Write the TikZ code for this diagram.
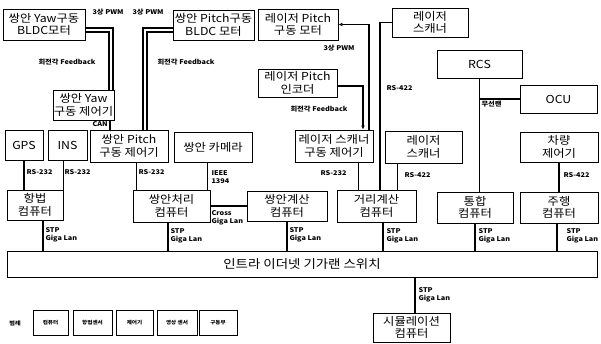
\documentclass[tikz,border=0pt]{standalone}
\usepackage{fontspec}
\setmainfont[FakeStretch=1.12]{Noto Sans CJK KR}
\usetikzlibrary{arrows.meta}
\begin{document}
\begin{tikzpicture}[x=1pt,y=-1pt,
  box/.style={draw, line width=0.9pt, inner sep=0pt, align=center, font=\fontsize{11}{12.5}\selectfont},
  lnk/.style={line width=1.5pt},
  lbl/.style={font=\fontsize{6.5}{8}\selectfont\bfseries, inner sep=0.3pt, anchor=west, align=left},
  leg/.style={draw, line width=0.9pt, inner sep=0pt, minimum height=25pt, font=\fontsize{5}{6}\selectfont\bfseries},
  tip/.style={-{Latex[open,length=4pt,width=4pt]}}
]
\useasboundingbox (0,0) rectangle (601,343);
% boxes
\node[box, minimum width=82pt, minimum height=31pt] (ymotor) at (44,24.5) {쌍안 Yaw구동\\BLDC모터};
\node[box, minimum width=81pt, minimum height=30pt] (pmotor) at (213.5,25) {쌍안 Pitch구동\\BLDC 모터};
\node[box, minimum width=80pt, minimum height=31pt] (lmotor) at (298,24.5) {레이저 Pitch\\구동 모터};
\node[box, minimum width=76pt, minimum height=29pt] (lscan1) at (430,22.5) {레이저\\스캐너};
\node[box, minimum width=79pt, minimum height=28pt] (lenc) at (297.5,83) {레이저 Pitch\\인코더};
\node[box, minimum width=61pt, minimum height=30pt] (yctrl) at (83.5,105) {쌍안 Yaw\\구동 제어기};
\node[box, minimum width=85pt, minimum height=28pt] (rcs) at (479.5,64) {RCS};
\node[box, minimum width=77pt, minimum height=28pt] (ocu) at (558.5,99) {OCU};
\node[box, minimum width=38pt, minimum height=30pt] (gps) at (24,145) {GPS};
\node[box, minimum width=39pt, minimum height=30pt] (ins) at (67.5,145) {INS};
\node[box, minimum width=78pt, minimum height=32pt] (pctrl) at (129,146) {쌍안 Pitch\\구동 제어기};
\node[box, minimum width=78pt, minimum height=30pt] (cam) at (213,147) {쌍안 카메라};
\node[box, minimum width=78pt, minimum height=32pt] (lsctrl) at (334,146) {레이저 스캐너\\구동 제어기};
\node[box, minimum width=77pt, minimum height=32pt] (lscan2) at (423.5,147) {레이저\\스캐너};
\node[box, minimum width=78pt, minimum height=30pt] (vctrl) at (559,147) {차량\\제어기};
\node[box, minimum width=56pt, minimum height=30pt] (nav) at (35,205) {항법\\컴퓨터};
\node[box, minimum width=77pt, minimum height=32pt] (spc) at (171.5,206) {쌍안처리\\컴퓨터};
\node[box, minimum width=80pt, minimum height=30pt] (scc) at (287,206) {쌍안계산\\컴퓨터};
\node[box, minimum width=79pt, minimum height=32pt] (dcc) at (376.5,206) {거리계산\\컴퓨터};
\node[box, minimum width=76pt, minimum height=31pt] (icc) at (475,207.5) {통합\\컴퓨터};
\node[box, minimum width=78pt, minimum height=31pt] (dvc) at (559,207.5) {주행\\컴퓨터};
\node[box, minimum width=590pt, minimum height=26pt, font=\fontsize{12}{14}\selectfont] (sw) at (302,264) {인트라 이더넷 기가랜 스위치};
\node[box, minimum width=77pt, minimum height=29pt] (sim) at (411.5,327.5) {시뮬레이션\\컴퓨터};
% legend
\node[font=\fontsize{5.5}{6}\selectfont\bfseries, inner sep=0pt] (legt) at (15,323) {범례};
\node[leg, minimum width=35pt] (lg1) at (50.5,322.5) {컴퓨터};
\node[leg, minimum width=39pt] (lg2) at (92.5,322.5) {항법센서};
\node[leg, minimum width=37pt] (lg3) at (134.5,322.5) {제어기};
\node[leg, minimum width=40pt] (lg4) at (177,322.5) {영상 센서};
\node[leg, minimum width=38pt] (lg5) at (218,322.5) {구동부};
% yaw / pitch BLDC links
\draw[lnk] ([yshift=-3.5pt]ymotor.east) -| ([xshift=29.5pt]yctrl.north);
\draw[lnk] ([yshift=-7.5pt]ymotor.east) -| ([xshift=25.5pt]yctrl.north);
\draw[lnk] ([yshift=-3pt]pmotor.west) -| ([xshift=14pt]pctrl.north);
\draw[lnk] ([yshift=-7pt]pmotor.west) -| ([xshift=18pt]pctrl.north);
\draw[lnk] ([xshift=26.5pt]yctrl.south) -- ([xshift=26.5pt]yctrl.south |- pctrl.north);
\node[lbl] (l1) at (92,12) {3상 PWM};
\node[lbl] (l2) at (132,12) {3상 PWM};
\node[lbl] (l3) at (38,62) {회전각 Feedback};
\node[lbl] (l4) at (157,62) {회전각 Feedback};
\node[lbl] (l5) at (92,124) {CAN};
% laser pitch
\draw[lnk, tip] ([xshift=35pt]lsctrl.north) |- (lmotor.east);
\draw[lnk, tip] ([yshift=-3pt]lenc.east) -| ([xshift=29pt]lsctrl.north);
\node[lbl] (l6) at (323,48) {3상 PWM};
\node[lbl] (l7) at (290,109) {회전각 Feedback};
% laser scanner top to distance computer
\draw[lnk] (lscan1.west) -| ([xshift=3.5pt]dcc.north);
\node[lbl] (l8) at (386,88) {RS-422};
% RCS / OCU
\draw[lnk] (rcs.south) -- (rcs.south |- icc.north);
\draw[lnk] (ocu.west) -- (ocu.west -| rcs.south);
\node[lbl] (l9) at (481,104) {무선랜};
% sensors to computers
\draw[lnk] (gps.south) -- (gps.south |- nav.north);
\draw[lnk] (nav.north east |- ins.south) -- (nav.north east);
\node[lbl] (l10) at (26,172) {RS-232};
\node[lbl] (l11) at (64,172) {RS-232};
\draw[lnk] ([xshift=4pt]spc.north west |- pctrl.south) -- ([xshift=4pt]spc.north west);
\node[lbl] (l12) at (138,172) {RS-232};
\draw[lnk] ([xshift=-3pt]spc.north east |- cam.south) -- ([xshift=-3pt]spc.north east);
\node[lbl] (l13) at (211,177) {IEEE\\1394};
\draw[lnk] (spc.east) -- (spc.east -| scc.west);
\node[lbl] (l14) at (211,218) {Cross\\Giga Lan};
\draw[lnk] ([xshift=-15pt]lsctrl.south east) -- ([xshift=-15pt]lsctrl.south east |- dcc.north);
\node[lbl] (l15) at (320,173) {RS-232};
\draw[lnk] ([xshift=13pt]lscan2.south west) -- ([xshift=13pt]lscan2.south west |- dcc.north);
\node[lbl] (l16) at (404,175) {RS-422};
\draw[lnk] (vctrl.south) -- (dvc.north);
\node[lbl] (l17) at (563,175) {RS-422};
% STP Giga Lan to switch
\draw[lnk] ([xshift=8pt]nav.south) -- ([xshift=8pt]nav.south |- sw.north);
\node[lbl] (s1) at (45,235) {STP\\Giga Lan};
\draw[lnk] ([xshift=-3.5pt]spc.south) -- ([xshift=-3.5pt]spc.south |- sw.north);
\node[lbl] (s2) at (170,236) {STP\\Giga Lan};
\draw[lnk] (scc.south) -- (scc.south |- sw.north);
\node[lbl] (s3) at (289,235) {STP\\Giga Lan};
\draw[lnk] ([xshift=6.5pt]dcc.south) -- ([xshift=6.5pt]dcc.south |- sw.north);
\node[lbl] (s4) at (386,236) {STP\\Giga Lan};
\draw[lnk] (icc.south) -- (icc.south |- sw.north);
\node[lbl] (s5) at (478,236) {STP\\Giga Lan};
\draw[lnk] ([xshift=-2pt]dvc.south) -- ([xshift=-2pt]dvc.south |- sw.north);
\node[lbl] (s6) at (566,236) {STP\\Giga Lan};
\draw[lnk] ([xshift=3.5pt]sim.north |- sw.south) -- ([xshift=3.5pt]sim.north);
\node[lbl] (s7) at (418,295) {STP\\Giga Lan};
\end{tikzpicture}
\end{document}
